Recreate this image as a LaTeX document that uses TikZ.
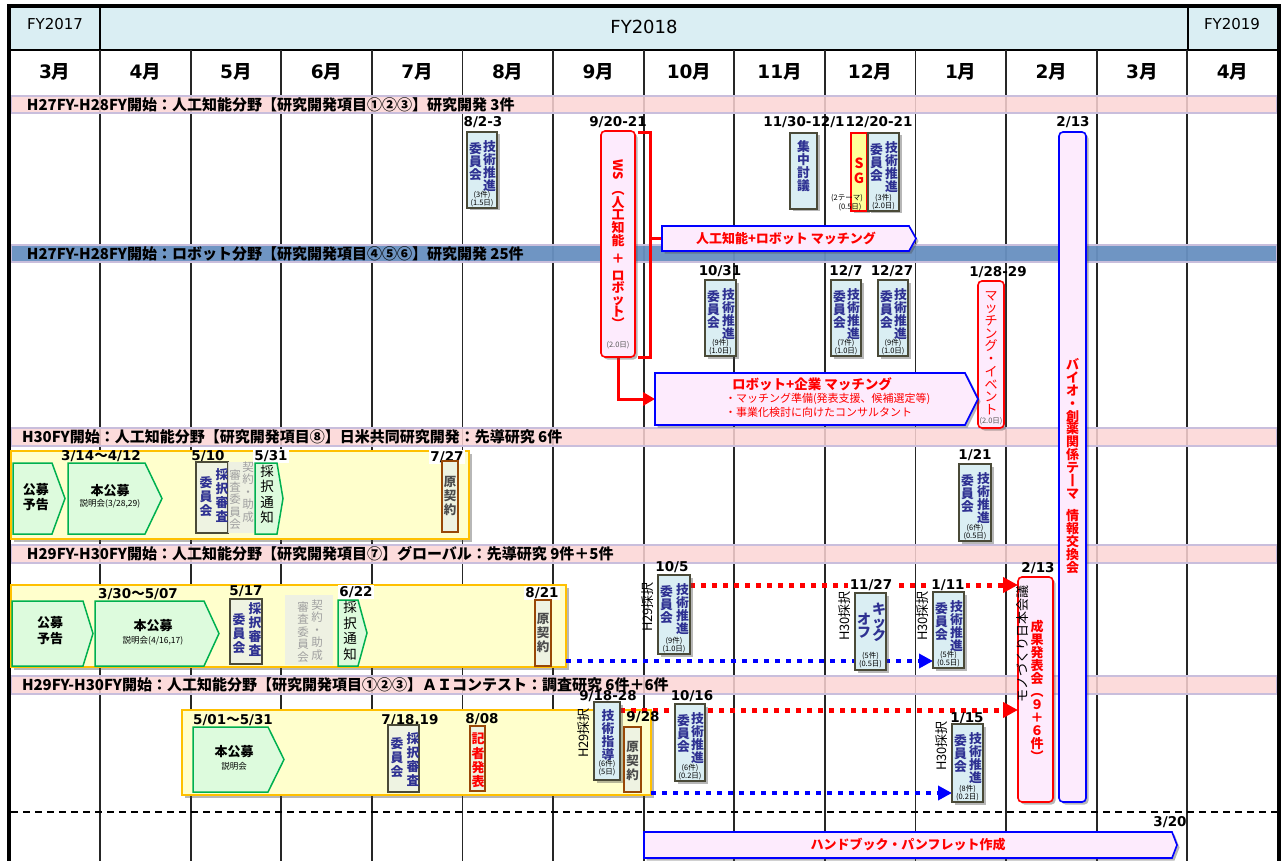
\documentclass[tikz,border=0pt]{standalone}
\usepackage{fontspec}
\setmainfont{Noto Sans CJK JP}
\newfontfamily\dv{DejaVu Sans}
\usetikzlibrary{arrows.meta,shadows,fit}
\pgfdeclarelayer{back}
\pgfdeclarelayer{mid}
\pgfsetlayers{back,mid,main}
\setlength{\lineskiplimit}{-20pt}
\definecolor{hdr}{HTML}{DAEEF3}
\definecolor{bandpink}{HTML}{FCD5D5}
\definecolor{bandline}{HTML}{C9BEDC}
\definecolor{bandblue}{HTML}{6890C0}
\definecolor{boxblue}{HTML}{DAEEF3}
\definecolor{boxedge}{HTML}{4A4A38}
\definecolor{cnavy}{HTML}{2E3192}
\definecolor{lav}{HTML}{FDEBFD}
\definecolor{cyel}{HTML}{FFFFCC}
\definecolor{corange}{HTML}{FFC000}
\definecolor{lgreen}{HTML}{DDFBDD}
\definecolor{dgreen}{HTML}{00B050}
\definecolor{cream}{HTML}{EEF3E2}
\definecolor{cbrown}{HTML}{984807}
\definecolor{fred}{HTML}{FF0000}
\definecolor{fblue}{HTML}{0000FF}
\definecolor{sgyel}{HTML}{FFFF99}
\definecolor{faded}{HTML}{ECEFE6}
\definecolor{fadetxt}{HTML}{A0A0A0}
\tikzset{
 every node/.style={inner sep=0pt,outer sep=0pt},
 gridl/.style={line width=1.8pt,draw=black!85},
 band/.style={fill=bandpink,draw=bandline,line width=1.2pt,fill opacity=0.85},
 bandb/.style={fill=bandblue,draw=bandline,line width=1.2pt,fill opacity=0.95},
 bandtxt/.style={anchor=west,font=\bfseries\fontsize{15}{15}\selectfont},
 mon/.style={font=\bfseries\fontsize{18.5}{19}\selectfont},
 lbl/.style={font=\dv\bfseries\fontsize{13.5}{14}\selectfont},
 lblw/.style={lbl,fill=white,inner xsep=1.5pt,inner ysep=1pt},
 shad/.style={drop shadow={shadow xshift=2.5pt,shadow yshift=-2.5pt,opacity=0.4,fill=black!70}},
 tbox/.style={fill=boxblue,draw=boxedge,line width=1.3pt,shad},
 sbox/.style={fill=cream,draw=boxedge,line width=1.3pt},
 ck/.style={fill=cream,draw=cbrown,line width=1.3pt},
 sgbox/.style={fill=sgyel,draw=fred,line width=1.6pt,shad},
 fadebox/.style={fill=faded,fill opacity=0.85},
 ntxt/.style={text=cnavy,font=\bfseries\fontsize{12.8}{13}\selectfont,align=center},
 stxt/.style={text=cnavy,font=\bfseries\fontsize{12.8}{14}\selectfont,align=center},
 ftxt/.style={text=fadetxt,font=\fontsize{11.5}{12.4}\selectfont,align=center},
 vtxt/.style={font=\fontsize{13.5}{15.5}\selectfont,align=center},
 ktxt/.style={text=black!70,font=\bfseries\fontsize{12.5}{14}\selectfont,align=center},
 btxt/.style={font=\bfseries\fontsize{13}{15}\selectfont,align=center},
 sm/.style={font=\fontsize{8.5}{9}\selectfont},
 tn/.style={font=\fontsize{7.5}{8}\selectfont,align=center},
 tng/.style={tn,text=black!65},
 cont/.style={fill=cyel,draw=corange,line width=1.8pt,shad},
 pent/.style={fill=lgreen,draw=dgreen,line width=1.5pt},
 lavbox/.style={fill=lav,draw=fblue,line width=1.6pt,shad},
 lavround/.style={lavbox,rounded corners=4pt},
 redbox/.style={fill=lav,draw=fred,line width=1.6pt,rounded corners=4pt,shad},
 rtxt/.style={text=fred,font=\bfseries\fontsize{13}{13}\selectfont,align=center},
 rtxtn/.style={text=fred,font=\fontsize{13}{12.7}\selectfont,align=center},
 rsmall/.style={text=fred,font=\fontsize{11}{12}\selectfont},
 vrot/.style={rotate=90,font=\fontsize{13}{13}\selectfont},
 redline/.style={draw=fred,line width=3pt},
 reddot/.style={draw=fred,line width=5pt,dash pattern=on 5pt off 6pt,-{Triangle[length=15pt,width=15pt]}},
 bluedot/.style={draw=fblue,line width=4.5pt,dash pattern=on 5pt off 6pt,-{Triangle[length=14pt,width=14pt]}},
 dline/.style={draw=black,line width=1.3pt,dash pattern=on 7pt off 5pt},
}
\newcommand\pentpath[6][]{\path[#1] (#2,#3) -- (#6,#3) -- (#4,{(#3+#5)/2}) -- (#6,#5) -- (#2,#5) -- cycle;}
\newcommand\gbox[7]{%
  \node[tbox,fit={(#2,#3) (#4,#5)}] (#1) {};
  \node[ntxt,anchor=north] (#1r) at ([xshift=-7.5pt,yshift=-9pt]#1.north east) {技\\術\\推\\進};
  \node[ntxt,anchor=north] (#1l) at ([xshift=8.5pt,yshift=-11pt]#1.north west) {委\\員\\会};
  \node[tn] (#1c) at ([yshift=13pt]#1.south) {(#6)};
  \node[tn] (#1d) at ([yshift=5pt]#1.south) {(#7)};}
\newcommand\mo[1]{{\dv #1}月}
\newcommand\wv{{\rmfamily ～}}
\begin{document}
\begin{tikzpicture}[x=1pt,y=-1pt]
\useasboundingbox (0,0) rectangle (1282,861);
\begin{pgfonlayer}{back}
\fill[white] (0,0) rectangle (1282,861);
\fill[hdr] (11,8) rectangle (1277,50);
\draw[line width=1.5pt] (11,50) -- (1277,50);
\draw[line width=1.5pt] (100,8) -- (100,50) (1188,8) -- (1188,50);
\foreach \i in {1,...,13} \draw[gridl] ({100+90.6*(\i-1)},50) -- ({100+90.6*(\i-1)},861);
\draw[band] (11,96) rectangle (1277,113);
\draw[bandb] (11,245) rectangle (1277,262);
\draw[band] (11,428) rectangle (1277,446);
\draw[band] (11,545) rectangle (1277,563);
\draw[band] (11,676) rectangle (1277,694);
\draw[dline] (11,812) -- (1277,812);
\draw[line width=4pt] (9,861) -- (9,6.5) -- (1278.5,6.5) -- (1278.5,861);
\node[cont,fit={(11,451) (469,539)}] (c3) {};
\node[cont,fit={(11,585) (566,667)}] (c4) {};
\node[cont,fit={(182,710) (651,795)}] (c5) {};
\end{pgfonlayer}
% header
\node[font=\dv\fontsize{15}{15}\selectfont] (fy17) at (55,24) {FY2017};
\node[font=\dv\fontsize{18}{18}\selectfont] (fy18) at (644,27) {FY2018};
\node[font=\dv\fontsize{15}{15}\selectfont] (fy19) at (1232,24) {FY2019};
\foreach \m [count=\i from 0] in {3,4,5,6,7,8,9,10,11,12,1,2,3,4}
  \node[mon] (m\i) at ({54.7+90.6*\i},72) {\mo{\m}};
% band texts
\node[bandtxt] (t1) at (27,104.5) {H27FY-H28FY開始：人工知能分野【研究開発項目①②③】研究開発 3件};
\node[bandtxt] (t2) at (27,253.5) {H27FY-H28FY開始：ロボット分野【研究開発項目④⑤⑥】研究開発 25件};
\node[bandtxt] (t3) at (22,437) {H30FY開始：人工知能分野【研究開発項目⑧】日米共同研究開発：先導研究 6件};
\node[bandtxt] (t4) at (27,554) {H29FY-H30FY開始：人工知能分野【研究開発項目⑦】グローバル：先導研究 9件＋5件};
\node[bandtxt] (t5) at (22,685) {H29FY-H30FY開始：人工知能分野【研究開発項目①②③】ＡＩコンテスト：調査研究 6件＋6件};
% ---- section 1
\node[lbl] (d1) at (483,122) {8/2-3};
\gbox{g1}{467}{132}{497}{208}{3件}{1.5日}
\node[lbl] (d2) at (618,122) {9/20-21};
\node[redbox,fit={(601,131) (635,357)}] (ws) {};
\node[rtxt,rotate=-90] (wsa) at (618,170) {WS};
\node[rtxt,font=\bfseries\fontsize{13}{12.7}\selectfont] (wsb) at (618,219) {︵\\人\\工\\知\\能};
\node[rtxt] (wsc) at (618,259) {＋};
\node[rtxt,font=\bfseries\fontsize{13}{12}\selectfont] (wsd) at (618,300) {ロ\\ボ\\ッ\\ト\\︶};
\node[tng] (wse) at (618,345) {(2.0日)};
\pentpath[lavbox]{662}{226}{916}{251}{909}
\node[rtxt] (aim) at (786,238.5) {人工知能+ロボット マッチング};
\coordinate (aimL) at (662,238.5);
\node[lbl] (d3) at (804,122) {11/30-12/1};
\node[tbox,fit={(790,133) (817,209)}] (sc) {};
\node[ntxt] (sct) at (803.5,166) {集\\中\\討\\議};
\node[sgbox,fit={(851,133) (867,211)}] (sg) {};
\node[rtxt,font=\bfseries\fontsize{14}{15}\selectfont] (sgt) at (859,170.5) {S\\G};
\node[tn] (sgc) at (847,198) {(2テーマ)};
\node[tn] (sgd) at (850,207) {(0.5日)};
\node[lbl] (d4) at (879,122) {12/20-21};
\gbox{g2}{868}{133}{899}{211}{3件}{2.0日}
\node[lbl] (d5) at (1073,122) {2/13};
\node[lavround,fit={(1059,132) (1086,802)}] (bio) {};
\node[rtxt,font=\bfseries\fontsize{13}{12.9}\selectfont] (biot) at (1072.5,466) {バ\\イ\\オ\\・\\創\\薬\\関\\係\\テ\\丨\\マ\\[9.5pt]情\\報\\交\\換\\会};
% ---- section 2
\node[lbl] (d6) at (720,271) {10/31};
\gbox{g3}{705}{280}{736}{356}{9件}{1.0日}
\node[lbl] (d7) at (846,271) {12/7};
\gbox{g4}{831}{280}{861}{356}{7件}{1.0日}
\node[lbl] (d8) at (892,271) {12/27};
\gbox{g5}{878}{280}{908}{356}{9件}{1.0日}
\node[lbl] (d9) at (998,272) {1/28-29};
\node[redbox,fit={(978,281) (1004,428)}] (me) {};
\node[rtxtn] (met) at (991,353) {マ\\ッ\\チ\\ン\\グ\\・\\イ\\ベ\\ン\\ト};
\node[tng] (mes) at (991,421) {(2.0日)};
\pentpath[lavbox]{655}{373}{978}{425}{965}
\node[rtxt,font=\bfseries\fontsize{13.5}{14}\selectfont] (rkt) at (812,384.5) {ロボット+企業 マッチング};
\node[rsmall,anchor=west] (rk1) at (725,398.5) {・マッチング準備(発表支援、候補選定等)};
\node[rsmall,anchor=west] (rk2) at (725,412.5) {・事業化検討に向けたコンサルタント};
\coordinate (rkL) at (655,399);
% ---- section 3
\node[lbl] (d10) at (101,456) {3/14\wv 4/12};
\pentpath[pent]{13}{463}{65}{534}{52}
\node[btxt] (p1) at (36,497) {公募\\予告};
\pentpath[pent]{68}{463}{162}{534}{145}
\node[btxt] (p2) at (110,491) {本公募};
\node[sm] (p2s) at (110,504) {説明会(3/28,29)};
\node[lbl] (d11) at (208,456) {5/10};
\node[sbox,fit={(196,462) (228,533)}] (s1) {};
\node[stxt] (s1r) at (222,495.5) {採\\択\\審\\査};
\node[stxt] (s1l) at (206,496.5) {委\\員\\会};
\node[fadebox,fit={(228,462) (255,533)}] (f1) {};
\node[ftxt] (f1r) at (248,492) {契\\約\\・\\助\\成};
\node[ftxt] (f1l) at (235,499.5) {審\\査\\委\\員\\会};
\node[lblw] (d12) at (271,456) {5/31};
\pentpath[pent]{255}{463}{283}{534}{277}
\node[vtxt] (p3) at (267,494.5) {採\\択\\通\\知};
\node[lblw] (d13) at (447,457) {7/27};
\node[ck,fit={(442,461) (458,532)}] (k1) {};
\node[ktxt] (k1t) at (450,496) {原\\契\\約};
\node[lbl] (d14) at (975,455) {1/21};
\gbox{g6}{959}{464}{991}{541}{6件}{0.5日}
% ---- section 4
\node[lbl] (d15) at (138,594) {3/30\wv 5/07};
\pentpath[pent]{12}{601}{93}{666}{83}
\node[btxt,font=\bfseries\fontsize{13}{16}\selectfont] (p4) at (50,631) {公募\\予告};
\pentpath[pent]{95}{601}{219}{666}{204}
\node[btxt] (p5) at (153,626) {本公募};
\node[sm] (p5s) at (153,641) {説明会(4/16,17)};
\node[lbl] (d16) at (246,591) {5/17};
\node[sbox,fit={(230,599) (262,664)}] (s2) {};
\node[stxt] (s2r) at (255,630) {採\\択\\審\\査};
\node[stxt] (s2l) at (239,634) {委\\員\\会};
\node[fadebox,fit={(285,595) (333,665)}] (f2) {};
\node[ftxt] (f2r) at (317,630) {契\\約\\・\\助\\成};
\node[ftxt] (f2l) at (303,632) {審\\査\\委\\員\\会};
\node[lblw] (d17) at (356,592) {6/22};
\pentpath[pent]{338}{600}{367}{666}{358}
\node[vtxt] (p6) at (350,631) {採\\択\\通\\知};
\node[lblw] (d18) at (542,593) {8/21};
\node[ck,fit={(535,600) (551,666)}] (k2) {};
\node[ktxt] (k2t) at (543,633) {原\\契\\約};
\node[lbl] (d19) at (672,567) {10/5};
\node[vrot] (h1) at (648,607) {H29採択};
\gbox{g7}{658}{575}{690}{654}{9件}{1.0日}
\node[lblw] (d20) at (871,585) {11/27};
\node[vrot] (h2) at (845,616) {H30採択};
\node[tbox,fit={(855,593) (886,670)}] (ko) {};
\node[ntxt,font=\bfseries\fontsize{14}{13}\selectfont] (kor) at (879,622) {キ\\ッ\\ク};
\node[ntxt,font=\bfseries\fontsize{14}{13}\selectfont] (kol) at (864,625.5) {オ\\フ};
\node[tn] (koc) at (870.5,656) {(5件)};
\node[tn] (kod) at (870.5,664) {(0.5日)};
\node[lblw] (d21) at (948,585) {1/11};
\node[vrot] (h3) at (923,616) {H30採択};
\gbox{g8}{933}{592}{964}{668}{5件}{0.5日}
% ---- section 5
\node[lbl] (d23) at (233,720) {5/01\wv 5/31};
\pentpath[pent]{193}{727}{284}{792}{268}
\node[btxt] (p7) at (234,752) {本公募};
\node[sm] (p7s) at (234,766) {説明会};
\node[lbl] (d24) at (410,720) {7/18,19};
\node[sbox,fit={(388,725) (419,792)}] (s3) {};
\node[stxt] (s3r) at (413,759.5) {採\\択\\審\\査};
\node[stxt] (s3l) at (397,758) {委\\員\\会};
\node[lbl] (d25) at (482,719) {8/08};
\node[ck,fit={(470,726) (485,791)}] (k3) {};
\node[rtxt,font=\bfseries\fontsize{13}{14.3}\selectfont] (k3t) at (478,760.5) {記\\者\\発\\表};
\node[lbl] (d26) at (608,696) {9/18-28};
\node[vrot] (h4) at (584,733) {H29採択};
\node[tbox,fit={(594,702) (620,780)}] (sd) {};
\node[ntxt] (sdt) at (608,735) {技\\術\\指\\導};
\node[tn] (sdc) at (607,764) {(6件)};
\node[tn] (sdd) at (607,772) {(5日)};
\node[lbl] (d27) at (643,717) {9/28};
\node[ck,fit={(624,727) (641,792)}] (k4) {};
\node[ktxt] (k4t) at (632.5,761) {原\\契\\約};
\node[lbl] (d28) at (692,696) {10/16};
\gbox{g9}{675}{704}{705}{781}{6件}{0.2日}
\node[vrot] (h5) at (942,746) {H30採択};
\node[lbl] (d29) at (967,718) {1/15};
\gbox{g10}{952}{724}{983}{802}{8件}{0.2日}
\node[lbl] (d22) at (1038,568) {2/13};
\node[redbox,fit={(1018,577) (1053,802)}] (sei) {};
\node[vrot] (mono) at (1023,644) {モノづくり日本会議};
\node[rtxt,font=\bfseries\fontsize{13}{13}\selectfont] (seit) at (1037,691) {成\\果\\発\\表\\会\\︵\\９\\＋\\６\\件\\︶};
% ---- bottom
\pentpath[lavbox]{644}{832}{1177}{858}{1172}
\node[rtxt] (hbt) at (908,845) {ハンドブック・パンフレット作成};
\node[lbl] (d30) at (1170,822) {3/20};
% ---- connectors
\begin{pgfonlayer}{mid}
\coordinate (brT) at ([xshift=3pt,yshift=-2pt]ws.north east);
\coordinate (brB) at ([xshift=3pt]ws.south east);
\coordinate (brX) at (650,238.5);
\draw[redline] (brT) -- (brT -| brX) -- (brB -| brX) -- (brB);
\draw[redline] (brX) -- (aimL);
\draw[redline,-{Triangle[length=12pt,width=13pt]}] (ws.south) |- (rkL);
\coordinate (r1s) at ([yshift=-10pt]g7.north east);
\draw[reddot] (r1s) -- (r1s -| sei.west);
\coordinate (r2s) at ([yshift=-8pt]sd.north east);
\draw[reddot] (r2s) -- (r2s -| sei.west);
\coordinate (b1s) at ([yshift=6pt]c4.south east);
\draw[bluedot] (b1s) -- (b1s -| g8.west);
\coordinate (b2s) at ([yshift=2pt]c5.south east);
\draw[bluedot] (b2s) -- (b2s -| g10.west);
\end{pgfonlayer}
\end{tikzpicture}
\end{document}
